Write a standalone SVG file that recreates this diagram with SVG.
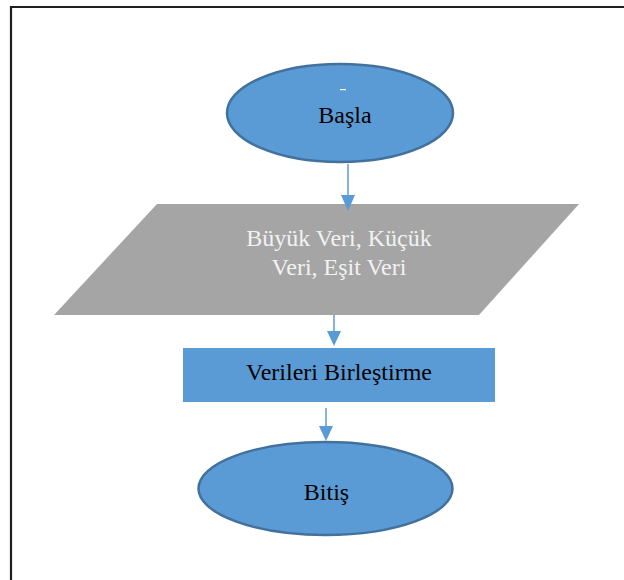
<svg xmlns="http://www.w3.org/2000/svg" width="624" height="580" viewBox="0 0 624 580">
  <defs>
    <style>
      .term { fill: #5b9bd5; stroke: #41719c; stroke-width: 2.5; }
      .proc { fill: #5b9bd5; }
      .io { fill: #a5a5a5; }
      .lbl { font-family: "Liberation Serif", "Times New Roman", serif; font-size: 24px; text-anchor: middle; fill: #000; }
      .lbl-light { fill: #f2f2f2; }
      .conn { stroke: #5b9bd5; stroke-width: 1.5; fill: none; }
      .head { fill: #5b9bd5; }
    </style>
  </defs>

  <rect width="624" height="580" fill="#fff"/>

  <!-- page frame: top and left edges -->
  <path d="M11 580 V7 H624" fill="none" stroke="#1e1e1e" stroke-width="2.2"/>

  <g id="start">
    <ellipse class="term" cx="340" cy="113" rx="113" ry="49"/>
    <rect x="340" y="89" width="6" height="1.2" fill="#fff"/>
    <text class="lbl" x="345" y="123">Başla</text>
  </g>

  <g id="input">
    <polygon class="io" points="157,204 579,204 479,315 54,315"/>
    <text class="lbl lbl-light" x="339" y="246">Büyük Veri, Küçük</text>
    <text class="lbl lbl-light" x="339" y="275">Veri, Eşit Veri</text>
  </g>

  <g id="merge">
    <rect class="proc" x="183" y="348" width="312" height="54"/>
    <text class="lbl" x="339" y="380">Verileri Birleştirme</text>
  </g>

  <g id="end">
    <ellipse class="term" cx="325.5" cy="488.5" rx="127" ry="46.5"/>
    <text class="lbl" x="326.5" y="500">Bitiş</text>
  </g>

  <g id="connectors">
    <line class="conn" x1="348" y1="164" x2="348" y2="196"/>
    <polygon class="head" points="341,195 355,195 348,211"/>
    <line class="conn" x1="334" y1="315" x2="334" y2="332"/>
    <polygon class="head" points="327,331 341,331 334,346"/>
    <line class="conn" x1="326" y1="408" x2="326" y2="427"/>
    <polygon class="head" points="319,426 333,426 326,441"/>
  </g>
</svg>
